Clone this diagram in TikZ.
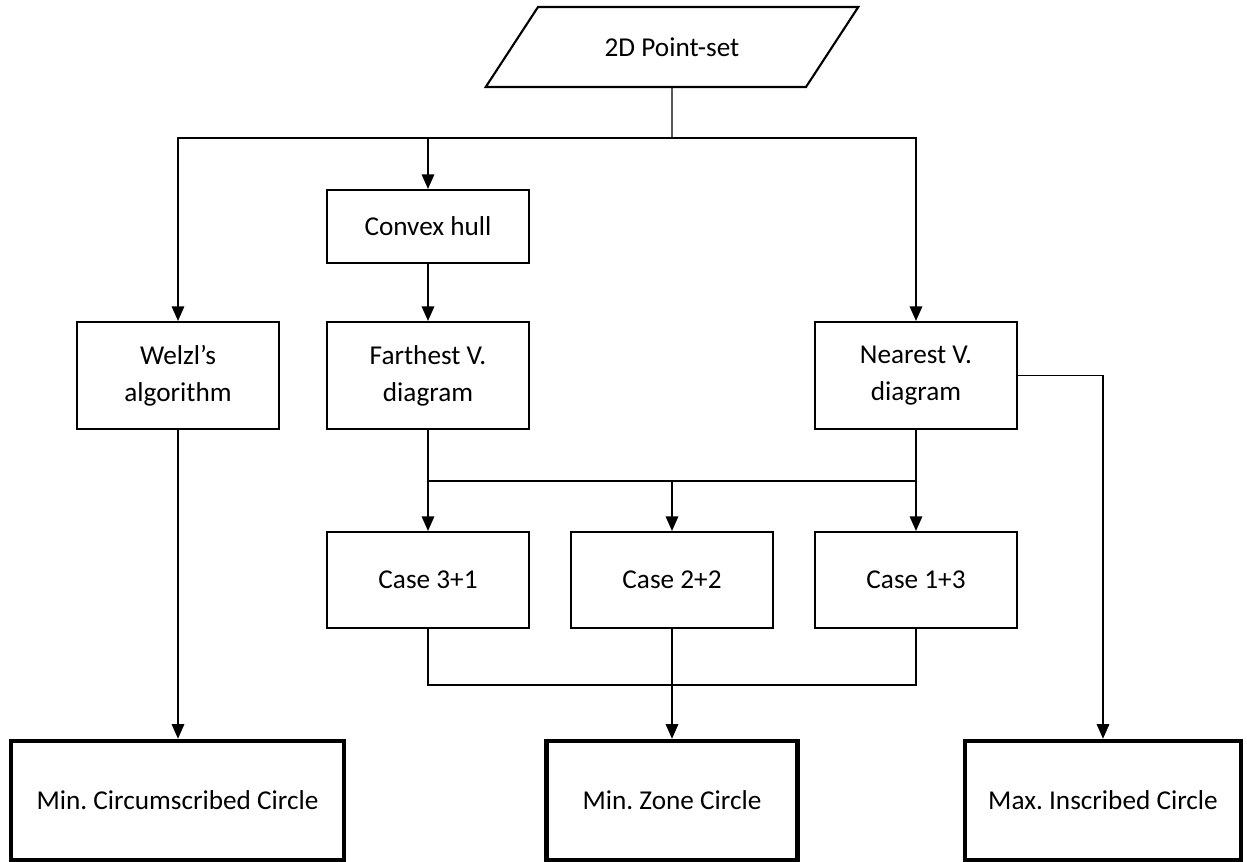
\documentclass[tikz,border=0pt]{standalone}
\usepackage{fontspec}
\setmainfont{Carlito}
\usepackage{tikz}
\usetikzlibrary{arrows.meta,positioning,calc,shapes.geometric}
\frenchspacing

\begin{document}
\begin{tikzpicture}[
    font=\fontsize{15.5}{21}\selectfont,
    box/.style={draw, line width=1.2pt, minimum width=4.04cm,
                minimum height=#1, align=center, inner sep=2pt},
    box/.default=2.14cm,
    result/.style={draw, line width=2.6pt, minimum height=2.38cm,
                   minimum width=#1, align=center},
    io/.style={draw, line width=1.2pt, trapezium, trapezium stretches=true,
               trapezium left angle=47, trapezium right angle=133,
               minimum width=7.46cm, minimum height=1.6cm},
    link/.style={line width=0.75pt},
    arr/.style={link, -{Triangle[length=0.29cm, width=0.25cm]}}
]
    \useasboundingbox (0,0) rectangle (24.94,-17.24);

    % Input
    \node[io] (input) at (13.44, -0.94) {2D Point-set};

    % Preprocessing and diagrams
    \node[box=1.46cm] (hull)     at ( 8.56, -4.53) {Convex hull};
    \node[box]        (welzl)    at ( 3.56, -7.51) {Welzl’s\\algorithm};
    \node[box]        (farthest) at ( 8.56, -7.51) {Farthest V.\\diagram};
    \node[box]        (nearest)  at (18.32, -7.51) {Nearest V.\\diagram};

    % Cases
    \node[box=1.92cm] (case31) at ( 8.56, -11.6) {Case 3+1};
    \node[box=1.92cm] (case22) at (13.44, -11.6) {Case 2+2};
    \node[box=1.92cm] (case13) at (18.32, -11.6) {Case 1+3};

    % Results
    \node[result=6.66cm] (mcc)  at ( 3.55, -16.01) {Min. Circumscribed Circle};
    \node[result=5.02cm] (zone) at (13.44, -16.01) {Min. Zone Circle};
    \node[result=5.52cm] (mic)  at (22.06, -16.01) {Max. Inscribed Circle};

    % Junction points
    \coordinate (split) at (13.44, -2.76);
    \coordinate (join1) at (13.44, -9.62);
    \coordinate (join2) at (13.44, -13.7);

    % Arrows
    \draw[link] (input.south) -- (split);
    \foreach \dst in {welzl, hull, nearest}
        \draw[arr] (split) -| (\dst.north);
    \draw[arr] (hull) -- (farthest);

    \draw[arr] (farthest) -- (case31);
    \draw[arr] (nearest) -- (case13);
    \draw[link] (farthest.south |- join1) -- (nearest.south |- join1);
    \draw[arr] (join1) -- (case22);

    \draw[link] (case31.south) |- (join2) -| (case13.south);
    \draw[arr] (case22) -- (zone);
    \draw[arr] (welzl.south) -- (welzl.south |- mcc.north);
    \draw[arr] (nearest.east) -| (mic.north);
\end{tikzpicture}
\end{document}
